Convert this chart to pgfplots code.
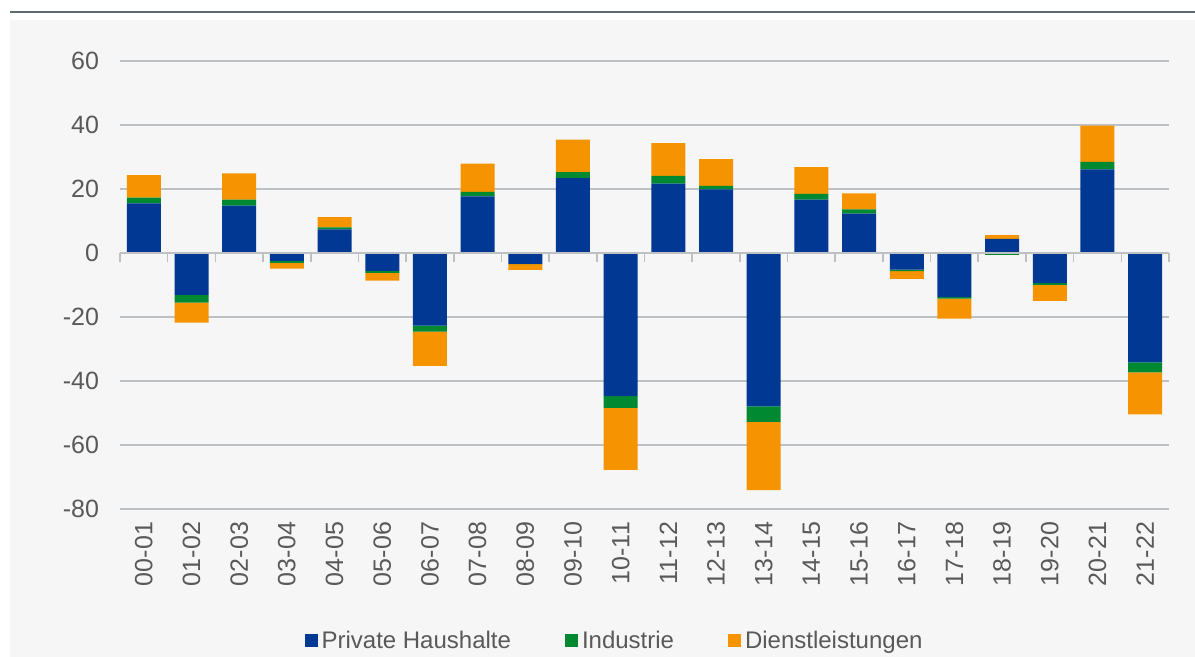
\documentclass[border=0pt]{standalone}
\usepackage{fontspec}
\setmainfont{Liberation Sans}
\usepackage{pgfplots}
\usepackage{pgfplotstable}
\pgfplotsset{compat=1.18}

\definecolor{cblue}{RGB}{0,56,147}
\definecolor{cgreen}{RGB}{0,137,48}
\definecolor{corange}{RGB}{245,148,0}
\definecolor{panelbg}{RGB}{246,246,246}
\definecolor{gridgray}{RGB}{190,193,196}
\definecolor{textgray}{RGB}{89,89,89}
\definecolor{topline}{RGB}{96,106,114}

% positive and negative parts stacked separately (Excel style)
\pgfplotstableread{
x blue green orange
0 15.5 1.8 7.0
1 0 0 0
2 14.8 1.9 8.2
3 0 0 0
4 7.4 0.6 3.2
5 0 0 0
6 0 0 0
7 17.7 1.4 8.8
8 0 0 0
9 23.4 1.9 10.1
10 0 0 0
11 21.7 2.4 10.2
12 19.9 1.1 8.3
13 0 0 0
14 16.7 1.8 8.3
15 12.3 1.3 5.0
16 0 0 0
17 0 0 0
18 4.4 0 1.2
19 0 0 0
20 26.1 2.4 11.3
21 0 0 0
}\postab

\pgfplotstableread{
x blue green orange
0 0 0 0
1 -13.1 -2.4 -6.3
2 0 0 0
3 -2.5 -0.6 -1.8
4 0 0 0
5 -5.6 -0.6 -2.4
6 -22.7 -1.9 -10.7
7 0 0 0
8 -3.4 -0.1 -1.8
9 0 0 0
10 -44.7 -3.7 -19.4
11 0 0 0
12 0 0 0
13 -47.9 -4.9 -21.3
14 0 0 0
15 0 0 0
16 -5.2 -0.5 -2.4
17 -13.8 -0.5 -6.2
18 0 -0.6 0
19 -9.4 -0.6 -5.0
20 0 0 0
21 -34.2 -3.1 -13.1
}\negtab

\pgfplotsset{base/.style={
    scale only axis, width=524.5pt, height=224pt,
    xmin=-0.5, xmax=21.5, ymin=-80, ymax=60,
    ybar stacked, bar width=17pt}}

\begin{document}
\begin{tikzpicture}
\useasboundingbox (-60pt,-74pt) rectangle (537.5pt,254.5pt);
\fill[panelbg] (-55pt,-74pt) rectangle (537.5pt,244.5pt);
\draw[topline, line width=0.9pt] (-55pt,248.5pt) -- (537.5pt,248.5pt);

\begin{axis}[base,
    axis line style={draw=none}, major tick length=0pt,
    ytick={-80,-60,...,60}, ymajorgrids,
    grid style={gridgray, line width=0.8pt},
    xtick={0,...,21},
    xticklabels={00-01,01-02,02-03,03-04,04-05,05-06,06-07,07-08,08-09,09-10,10-11,
                 11-12,12-13,13-14,14-15,15-16,16-17,17-18,18-19,19-20,20-21,21-22},
    xtick pos=lower, ytick pos=left,
    xticklabel style={rotate=90, anchor=east},
    xticklabel shift=3pt, yticklabel shift=7pt,
    tick label style={font=\fontsize{12.5}{15}\selectfont, text=textgray},
    /pgf/number format/assume math mode=true,
    legend style={at={(0.4724,-0.2946)}, anchor=center, draw=none, fill=none,
        legend columns=3, font=\fontsize{12}{14}\selectfont, text=textgray,
        /tikz/every even column/.append style={column sep=25pt}},
    legend image code/.code={\fill[#1] (0pt,-3.25pt) rectangle (6.5pt,3.25pt);},
]
\addplot[fill=cblue, draw=none] table[x=x, y=blue] {\postab};
\addlegendentry{Private Haushalte}
\addplot[fill=cgreen, draw=none] table[x=x, y=green] {\postab};
\addlegendentry{Industrie}
\addplot[fill=corange, draw=none] table[x=x, y=orange] {\postab};
\addlegendentry{Dienstleistungen}
\node[rotate=90, font=\fontsize{12.5}{15}\selectfont, text=textgray]
    at (rel axis cs:-0.083,0.551) {PJ};
\end{axis}

% second axis: negative stacks, zero line with its ticks on top
\begin{axis}[base, axis on top,
    axis x line=middle, axis y line=none,
    axis line style={gridgray, line width=1pt, -},
    xtick={-0.5,0.5,...,21.5}, ytick=\empty,
    xticklabel style={opacity=0},
    tick align=outside, major tick length=4.5pt,
    tick style={gridgray, line width=0.8pt},
]
\addplot[fill=cblue, draw=none] table[x=x, y=blue] {\negtab};
\addplot[fill=cgreen, draw=none] table[x=x, y=green] {\negtab};
\addplot[fill=corange, draw=none] table[x=x, y=orange] {\negtab};
\end{axis}
\end{tikzpicture}
\end{document}
